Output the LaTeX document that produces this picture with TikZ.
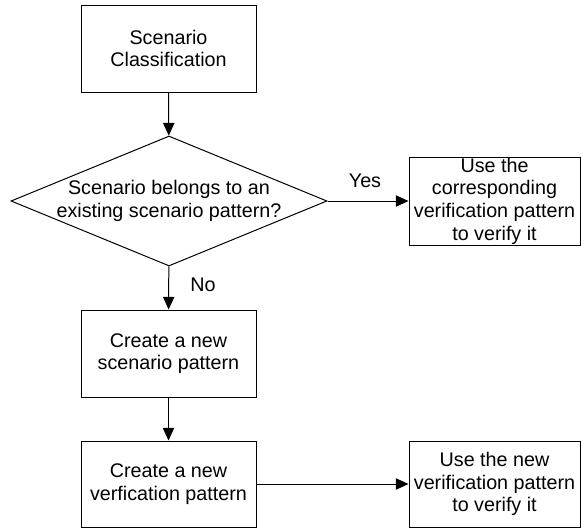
\documentclass[tikz,border=0pt]{standalone}
\usepackage{fontspec}
\setmainfont{Liberation Sans}
\usepackage{tikz}
\usetikzlibrary{shapes.geometric,arrows.meta}

\begin{document}
\begin{tikzpicture}[x=0.75pt,y=-0.75pt,
    every node/.style={font=\fontsize{14.8}{17}\selectfont},
    box/.style={draw,line width=0.75pt,align=center,inner sep=0pt,
        minimum width=131.25pt,minimum height=65.25pt},
    sidebox/.style={draw,line width=0.75pt,align=center,inner sep=0pt,
        minimum width=128.25pt,minimum height=65.25pt},
    decision/.style={draw,diamond,line width=0.75pt,align=center,
        inner xsep=-8pt,inner ysep=-3pt,
        aspect=2.43,minimum width=237pt,minimum height=97.5pt},
    flow/.style={line width=0.75pt,-{Triangle[length=9.5pt,width=8.5pt]}}
]

\useasboundingbox (0,0) rectangle (581,529);

% Main column
\node[box] (classify) at (168.5,48.5) {Scenario\\Classification};
\node[decision] (belongs) at (169,201) {Scenario belongs to an\\existing scenario pattern?};
\node[box] (newscen) at (168.5,353.5) {Create a new\\scenario pattern};
\node[box,minimum height=64.5pt] (newverif) at (168.5,484) {Create a new\\verfication pattern};

% Right column
\node[sidebox,minimum height=66pt] (usecorr) at (494.5,201)
    {Use the\\corresponding\\verification pattern\\to verify it};
\node[sidebox,minimum height=64.5pt] (usenew) at (494.5,484)
    {Use the new\\verification pattern\\to verify it};

% Connectors
\draw[flow] (classify) -- (belongs);
\draw[flow] (belongs) -- (usecorr);
\draw[flow] (belongs) -- (newscen);
\draw[flow] (newscen) -- (newverif);
\draw[flow] (newverif) -- (usenew);

% Branch labels
\node (yes) at (365,181) {Yes};
\node (no) at (203,285) {No};

\end{tikzpicture}
\end{document}
